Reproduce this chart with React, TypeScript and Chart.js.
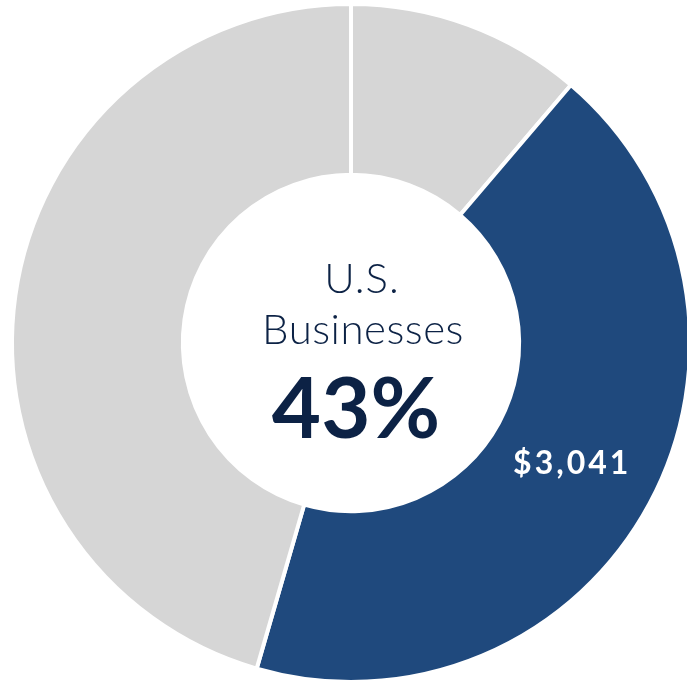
import React, { useEffect, useRef } from "react";
import { Chart, registerables } from "chart.js";

Chart.register(...registerables);

const categories = ["Other", "U.S. Businesses", "Remaining"];
const values = [790, 3041, 3200];
const colors = ["#d6d6d6", "#1f497d", "#d6d6d6"];
const centerLines = ["U.S.", "Businesses"];
const centerPercent = "43%";
const sliceLabel = "$3,041";
const TEXT_COLOR = "#0c2245";

const textPlugin = {
  id: "doughnutText",
  afterDraw(chart: any) {
    const meta = chart.getDatasetMeta(0);
    const arc = meta.data[1];
    if (!arc) return;
    const ctx = chart.ctx;
    const cx = arc.x;
    const cy = arc.y;
    ctx.save();
    ctx.textAlign = "center";
    ctx.textBaseline = "alphabetic";
    ctx.fillStyle = TEXT_COLOR;
    ctx.font = "300 42px Lato";
    (ctx as any).letterSpacing = "1px";
    ctx.fillText(centerLines[0], cx + 11, cy - 50);
    ctx.font = "300 42px Lato";
    (ctx as any).letterSpacing = "0.5px";
    ctx.fillText(centerLines[1], cx + 12, cy + 1);
    (ctx as any).letterSpacing = "0px";
    ctx.font = "bold 85px Lato";
    ctx.fillText(centerPercent, cx + 5, cy + 95);

    const pos = arc.tooltipPosition();
    ctx.fillStyle = "#ffffff";
    ctx.font = "bold 32px Lato";
    (ctx as any).letterSpacing = "3px";
    ctx.fillText(sliceLabel, pos.x - 2, pos.y + 11);
    ctx.restore();
  },
};

export default function App() {
  const ref = useRef<HTMLCanvasElement>(null);
  useEffect(() => {
    if (!ref.current) return;
    const chart = new Chart(ref.current, {
      type: "doughnut",
      data: {
        labels: categories,
        datasets: [
          {
            data: values,
            backgroundColor: colors,
            borderColor: "#ffffff",
            borderWidth: 4,
            hoverOffset: 0,
          },
        ],
      },
      options: {
        animation: false,
        responsive: false,
        radius: 339,
        cutout: "49.6%",
        events: [],
        plugins: {
          legend: { display: false },
          tooltip: { enabled: false },
        },
      } as any,
      plugins: [textPlugin],
    });
    document.fonts?.ready.then(() => chart.update());
    return () => chart.destroy();
  }, []);
  return (
    <div
      style={{
        position: "fixed",
        left: 0,
        top: 0,
        width: 687,
        height: 682,
        overflow: "hidden",
        background: "#ffffff",
      }}
    >
      <canvas
        ref={ref}
        width={700}
        height={700}
        style={{ position: "absolute", left: 1, top: -7, width: 700, height: 700 }}
      />
    </div>
  );
}
